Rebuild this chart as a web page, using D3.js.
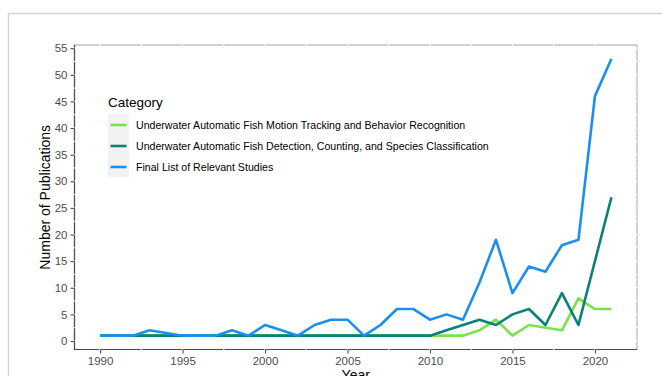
<!DOCTYPE html>
<html>
<head>
<meta charset="utf-8">
<script src="https://cdn.jsdelivr.net/npm/d3@7"></script>
<style>
	body { margin: 0; background: #fff; }
	svg { display: block; font-family: "Liberation Sans", Arial, sans-serif; }
</style>
</head>
<body>
<svg id="chart" width="662" height="376"></svg>
<script>
// values
const categories = [
	'Underwater Automatic Fish Motion Tracking and Behavior Recognition',
	'Underwater Automatic Fish Detection, Counting, and Species Classification',
	'Final List of Relevant Studies',
];
const colors = ['#78e34a', '#0a8078', '#1b8ff0'];

const motionYears = [1990, 1991, 1992, 1993, 1995, 1996, 1997, 1998, 1999, 2000, 2001, 2002, 2003, 2004, 2005, 2006, 2007, 2008, 2009, 2010, 2011, 2012, 2013, 2014, 2015, 2016, 2018, 2019, 2020, 2021];
const motionValues = [1, 1, 1, 1, 1, 1, 1, 1, 1, 1, 1, 1, 1, 1, 1, 1, 1, 1, 1, 1, 1, 1, 2, 4, 1, 3, 2, 8, 6, 6];

const detectionYears = [1990, 1991, 1992, 1993, 1995, 1996, 1997, 1998, 1999, 2000, 2001, 2002, 2003, 2004, 2005, 2006, 2007, 2008, 2009, 2010, 2011, 2012, 2013, 2014, 2015, 2016, 2017, 2018, 2019, 2020, 2021];
const detectionValues = [1, 1, 1, 1, 1, 1, 1, 1, 1, 1, 1, 1, 1, 1, 1, 1, 1, 1, 1, 1, 2, 3, 4, 3, 5, 6, 3, 9, 3, 15, 27];

const finalYears = [1990, 1991, 1992, 1993, 1995, 1996, 1997, 1998, 1999, 2000, 2001, 2002, 2003, 2004, 2005, 2006, 2007, 2008, 2009, 2010, 2011, 2012, 2013, 2014, 2015, 2016, 2017, 2018, 2019, 2020, 2021];
const finalValues = [1, 1, 1, 2, 1, 1, 1, 2, 1, 3, 2, 1, 3, 4, 4, 1, 3, 6, 6, 4, 5, 4, 11, 19, 9, 14, 13, 18, 19, 46, 53];

const xTicks = [1990, 1995, 2000, 2005, 2010, 2015, 2020];
const yTicks = [0, 5, 10, 15, 20, 25, 30, 35, 40, 45, 50, 55];

const series = [
	{ name: categories[0], color: colors[0], years: motionYears, values: motionValues },
	{ name: categories[1], color: colors[1], years: detectionYears, values: detectionValues },
	{ name: categories[2], color: colors[2], years: finalYears, values: finalValues },
];

const svg = d3.select('#chart');
const panel = { left: 74.5, right: 637, top: 45, bottom: 349.5 };

// ggplot style 5% expansion
const x = d3.scaleLinear().domain([1988.45, 2022.55]).range([panel.left, panel.right]);
const y = d3.scaleLinear().domain([-1.6, 55.6]).range([panel.bottom, panel.top]);

// outer frame of the screenshot
svg.append('rect')
	.attr('x', 8.5).attr('y', 13.5)
	.attr('width', 700).attr('height', 400)
	.attr('fill', 'none')
	.attr('stroke', '#d4d4d4')
	.attr('stroke-width', 1.5);

// panel border: light top/right, dark axis lines left/bottom
svg.append('rect')
	.attr('x', panel.left).attr('y', panel.top)
	.attr('width', panel.right - panel.left).attr('height', panel.bottom - panel.top)
	.attr('fill', '#fff')
	.attr('stroke', '#b3b3b3')
	.attr('stroke-width', 1.2);

svg.append('path')
	.attr('d', `M${panel.left},${panel.top}V${panel.bottom}H${panel.right}`)
	.attr('fill', 'none')
	.attr('stroke', '#4d4d4d')
	.attr('stroke-width', 1.2);

// white grid (major + minor) shows as gaps in the border
const gx = d3.range(1987.5, 2023, 2.5).filter((v) => x(v) > panel.left + 1 && x(v) < panel.right - 1);
const gy = d3.range(0, 56, 2.5).filter((v) => y(v) > panel.top + 1 && y(v) < panel.bottom - 1);

svg.append('g')
	.selectAll('line')
	.data(gx)
	.join('line')
	.attr('x1', (d) => x(d)).attr('x2', (d) => x(d))
	.attr('y1', panel.top - 1).attr('y2', panel.bottom + 1)
	.attr('stroke', '#fff')
	.attr('stroke-width', 1);

svg.append('g')
	.selectAll('line')
	.data(gy)
	.join('line')
	.attr('y1', (d) => y(d)).attr('y2', (d) => y(d))
	.attr('x1', panel.left - 1).attr('x2', panel.right + 1)
	.attr('stroke', '#fff')
	.attr('stroke-width', 1);

// axes
const xAxis = svg.append('g')
	.attr('transform', `translate(0,${panel.bottom})`)
	.call(d3.axisBottom(x).tickValues(xTicks).tickFormat(d3.format('d')).tickSize(4).tickPadding(3));
const yAxis = svg.append('g')
	.attr('transform', `translate(${panel.left},0)`)
	.call(d3.axisLeft(y).tickValues(yTicks).tickSize(4).tickPadding(3));

[xAxis, yAxis].forEach((g) => {
	g.select('.domain').remove();
	g.selectAll('.tick line').attr('stroke', '#4d4d4d').attr('stroke-width', 1.1);
	g.selectAll('.tick text')
		.attr('fill', '#4d4d4d')
		.style('font-size', '11.5px')
		.style('font-family', '"Liberation Sans", Arial, sans-serif');
});

// lines
const line = d3.line()
	.x((d) => x(d[0]))
	.y((d) => y(d[1]));

svg.append('g')
	.selectAll('path')
	.data(series)
	.join('path')
	.attr('d', (s) => line(s.years.map((yr, i) => [yr, s.values[i]])))
	.attr('fill', 'none')
	.attr('stroke', (s) => s.color)
	.attr('stroke-width', 2.6)
	.attr('stroke-linejoin', 'round');

// axis titles
svg.append('text')
	.attr('x', (panel.left + panel.right) / 2)
	.attr('y', 380)
	.attr('text-anchor', 'middle')
	.style('font-size', '14px')
	.text('Year');

svg.append('text')
	.attr('transform', `translate(50,${(panel.top + panel.bottom) / 2}) rotate(-90)`)
	.attr('text-anchor', 'middle')
	.style('font-size', '14px')
	.text('Number of Publications');

// legend
const legend = svg.append('g').attr('transform', 'translate(108,0)');
legend.append('text')
	.attr('x', 0).attr('y', 107)
	.style('font-size', '13.5px')
	.text('Category');

legend.append('rect')
	.attr('x', 0).attr('y', 114)
	.attr('width', 21).attr('height', 63)
	.attr('fill', '#f2f2f2');

const item = legend.selectAll('.item')
	.data(series)
	.join('g')
	.attr('class', 'item')
	.attr('transform', (s, i) => `translate(0,${125 + i * 21})`);

item.append('line')
	.attr('x1', 2.5).attr('x2', 18.5)
	.attr('stroke', (s) => s.color)
	.attr('stroke-width', 2.6);

item.append('text')
	.attr('x', 28).attr('y', 4)
	.style('font-size', '10.6px')
	.text((s) => s.name);
</script>
</body>
</html>
